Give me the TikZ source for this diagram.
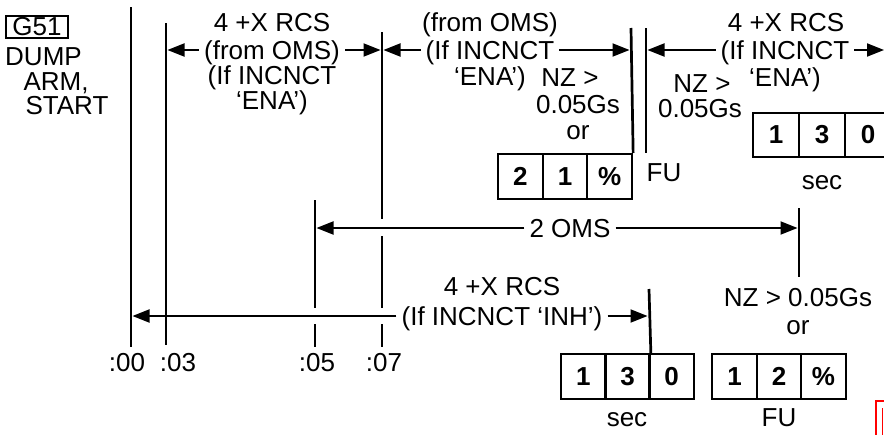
\documentclass[tikz,border=0pt]{standalone}
\usepackage{fontspec}
\setmainfont{Liberation Sans}
\usetikzlibrary{arrows.meta}
\begin{document}
\begin{tikzpicture}[x=1pt,y=-1pt,
  txt/.style={font=\fontsize{26}{26}\selectfont, inner xsep=5pt, inner ysep=0pt, text height=18.7pt, text depth=0pt},
  vline/.style={line width=2.7pt},
  arr/.style={line width=2pt, -{Triangle[length=17pt,width=13pt]}},
  cellA/.style={draw, line width=2pt, minimum width=46pt, minimum height=44pt, inner sep=0pt, font=\fontsize{26}{26}\selectfont\bfseries},
  cellB/.style={draw, line width=2pt, minimum width=44.7pt, minimum height=45pt, inner sep=0pt, font=\fontsize{26}{26}\selectfont\bfseries}]
\useasboundingbox (0,0) rectangle (884,434);

% ---- left labels
\node[draw, line width=2pt, minimum width=62pt, minimum height=22pt, inner sep=0pt, text height=18.7pt, text depth=0pt, font=\fontsize{26}{26}\selectfont] (g51) at (37,26.5) {G51};
\node[txt] (dump) at (43.5,56) {DUMP};
\node[txt] (arm) at (56,81) {ARM,};
\node[txt] (start) at (67,105) {START};

% ---- vertical time lines
\coordinate (l00t) at (131,7);   \coordinate (l00b) at (131,347);
\coordinate (l03t) at (166,23);  \coordinate (l03b) at (166,345);
\coordinate (l05t) at (315,200); \coordinate (l05m) at (315,308);
\coordinate (l05n) at (315,324); \coordinate (l05b) at (315,347);
\coordinate (l07t) at (382,32);  \coordinate (l07a) at (382,219);
\coordinate (l07c) at (382,236); \coordinate (l07d) at (382,308);
\coordinate (l07e) at (382,324); \coordinate (l07b) at (382,347);
\coordinate (lfut) at (631,28);
\coordinate (lrt) at (646,28);   \coordinate (lrb) at (646,153);
\coordinate (lomt) at (799,208); \coordinate (lomb) at (799,277);
\coordinate (linht) at (649,289);

\draw[vline] (l00t) -- (l00b);
\draw[vline] (l03t) -- (l03b);
\draw[vline] (l05t) -- (l05m);
\draw[vline] (l05n) -- (l05b);
\draw[vline] (l07t) -- (l07a);
\draw[vline] (l07c) -- (l07d);
\draw[vline] (l07e) -- (l07b);
\draw[vline] (lrt) -- (lrb);
\draw[vline] (lomt) -- (lomb);

% ---- time labels
\node[txt] (t00) at (127,362) {:00};
\node[txt] (t03) at (178,362) {:03};
\node[txt] (t05) at (317,362) {:05};
\node[txt] (t07) at (384,362) {:07};

% ---- top-left group
\node[txt] (a1) at (272,22) {4 +X RCS};
\node[txt] (a2) at (272,50) {(from OMS)};
\node[txt] (a3) at (272,75) {(If INCNCT};
\node[txt] (a4) at (272,100) {‘ENA’)};
\coordinate (p03) at (167.5,50);
\coordinate (p07l) at (380.5,50);
\coordinate (p07r) at (383.5,50);
\draw[arr] (a2.west) -- (p03);
\draw[arr] (a2.east) -- (p07l);

% ---- second group
\node[txt] (b1) at (490,22) {(from OMS)};
\node[txt] (b2) at (490,50) {(If INCNCT};
\node[txt] (b3) at (490,76) {‘ENA’)};
\coordinate (pfu) at (629.5,50);
\draw[arr] (b2.west) -- (p07r);
\draw[arr] (b2.east) -- (pfu);
\node[txt] (nz1) at (570,77) {NZ >};
\node[txt] (nz2) at (578,104) {0.05Gs};
\node[txt] (nz3) at (578,130) {or};
\node[cellB] (c21a) at (520.4,176.5) {2};
\node[cellB] (c21b) at (565.1,176.5) {1};
\node[cellB] (c21c) at (609.8,176.5) {\%};
\draw[vline] (lfut) -- (c21c.north east);
\node[txt] (fu1) at (664,172) {FU};

% ---- right group
\node[txt] (d1) at (786,22) {4 +X RCS};
\node[txt] (d2) at (785,50) {(If INCNCT};
\node[txt] (d3) at (785,77) {‘ENA’)};
\coordinate (prl) at (647.5,50);
\coordinate (prr) at (884,50);
\draw[arr] (d2.west) -- (prl);
\draw[arr] (d2.east) -- (prr);
\node[txt] (nz4) at (702,83) {NZ >};
\node[txt] (nz5) at (700,108) {0.05Gs};
\node[cellA] (c13a) at (776,135) {1};
\node[cellA] (c13b) at (822,135) {3};
\node[cellA] (c13c) at (868,135) {0};
\node[txt] (sec1) at (822,180) {sec};

% ---- 2 OMS
\node[txt] (oms) at (570,228) {2 OMS};
\coordinate (po5) at (316.5,228);
\coordinate (po9) at (797.5,228);
\draw[arr] (oms.west) -- (po5);
\draw[arr] (oms.east) -- (po9);

% ---- bottom group
\node[txt] (e1) at (502,286) {4 +X RCS};
\node[txt] (e2) at (502,316) {(If INCNCT ‘INH’)};
\coordinate (pi0) at (132.5,316);
\coordinate (pi9) at (647.5,316);
\draw[arr] (e2.west) -- (pi0);
\draw[arr] (e2.east) -- (pi9);
\node[txt] (nz6) at (798,297) {NZ > 0.05Gs};
\node[txt] (nz7) at (798,325) {or};

\node[cellB] (c30a) at (583.3,376.5) {1};
\node[cellB] (c30b) at (627.5,376.5) {3};
\node[cellB] (c30c) at (671.6,376.5) {0};
\draw[vline] (linht) -- (c30b.north east);
\node[txt] (sec2) at (627,417) {sec};

\node[cellB] (c12a) at (734.5,376.5) {1};
\node[cellB] (c12b) at (779,376.5) {2};
\node[cellB] (c12c) at (823.5,376.5) {\%};
\node[txt] (fu2) at (779,417) {FU};

% ---- red corner mark (cut by the edge)
\draw[red, line width=2pt] (876,401) rectangle (910,450);
\draw[red, line width=1.5pt] (882.5,408) -- (882.5,440);
\end{tikzpicture}
\end{document}
